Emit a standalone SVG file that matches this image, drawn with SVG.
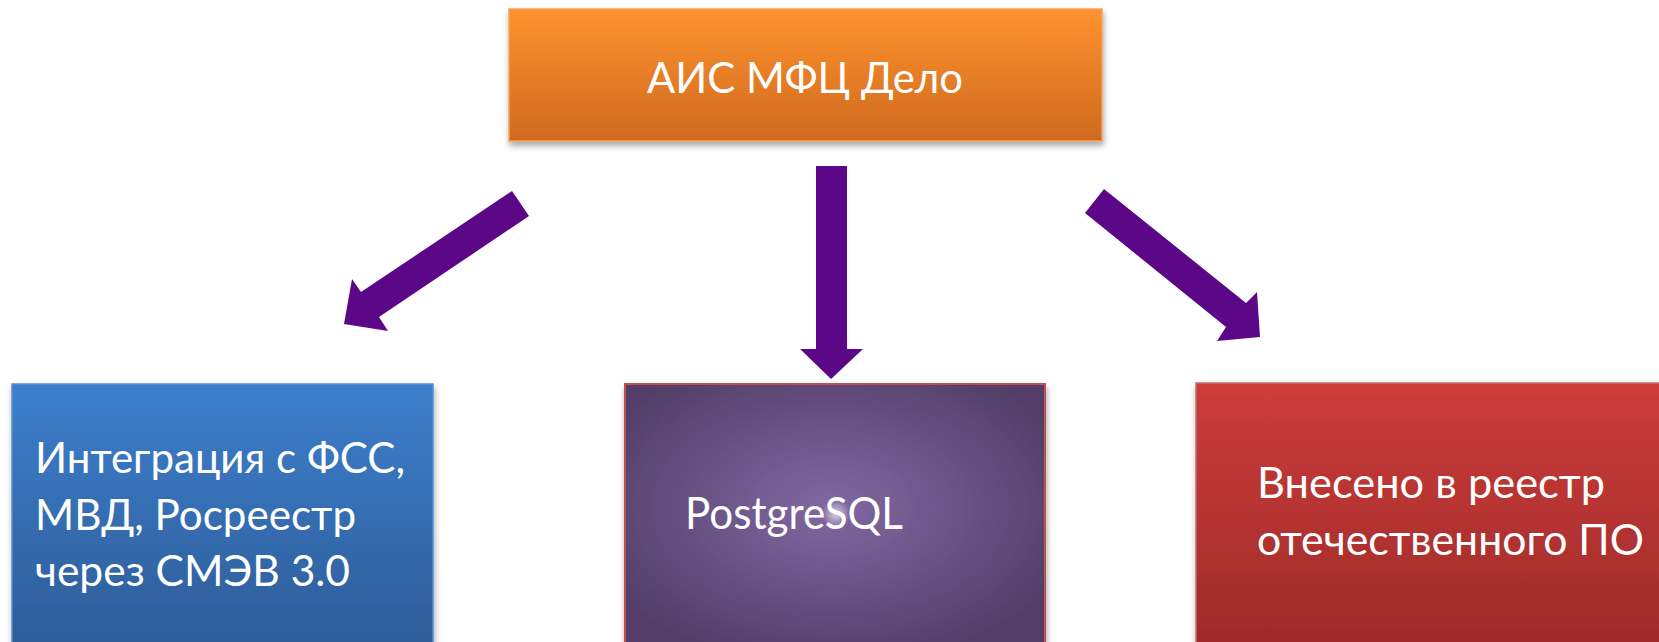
<svg xmlns="http://www.w3.org/2000/svg" width="1659" height="642" viewBox="0 0 1659 642">
<style>
.lbl{font-family:Lato,"Open Sans","Noto Sans",sans-serif;fill:#ffffff}
.arrow{fill:#5b0788}
</style>
<defs>
<linearGradient id="gOrange" x1="0" y1="0" x2="0" y2="1"><stop offset="0" stop-color="#fe922e"/><stop offset="1" stop-color="#cf6a1f"/></linearGradient>
<linearGradient id="gBlue" x1="0" y1="0" x2="0" y2="1"><stop offset="0" stop-color="#3d7fcc"/><stop offset="1" stop-color="#2d5c98"/></linearGradient>
<linearGradient id="gRed" x1="0" y1="0" x2="0" y2="1"><stop offset="0" stop-color="#cd3c3a"/><stop offset="1" stop-color="#9d2b29"/></linearGradient>
<radialGradient id="gPurple" cx="0.49" cy="0.47" r="0.62"><stop offset="0" stop-color="#8268a2"/><stop offset="1" stop-color="#523d68"/></radialGradient>
<radialGradient id="gGlow" cx="0.5" cy="0.5" r="0.5"><stop offset="0" stop-color="#ffffff" stop-opacity="0.7"/><stop offset="1" stop-color="#ffffff" stop-opacity="0"/></radialGradient>
<filter id="shadow" x="-5%" y="-10%" width="110%" height="125%"><feGaussianBlur in="SourceAlpha" stdDeviation="3"/><feOffset dx="1" dy="4"/><feComponentTransfer><feFuncA type="linear" slope="0.35"/></feComponentTransfer><feMerge><feMergeNode/><feMergeNode in="SourceGraphic"/></feMerge></filter>
</defs>
<rect width="1659" height="642" fill="#ffffff"/>
<g id="node-ais">
<rect x="509" y="9" width="593" height="132" fill="url(#gOrange)" stroke="#f7a35c" stroke-width="1.5" filter="url(#shadow)"/>
<text class="lbl" x="805" y="93" font-size="42" text-anchor="middle" textLength="316" lengthAdjust="spacingAndGlyphs">АИС МФЦ Дело</text>
</g>
<g id="connectors">
<polygon class="arrow" points="512,191 529,216 379,317 388,331 344,324 352,279 361,292"/>
<polygon class="arrow" points="816,166 847,166 847,349 863,349 831,379 800,349 816,349"/>
<polygon class="arrow" points="1104,189 1085,213 1226,327 1217,341 1260,337 1257,292 1246,303"/>
</g>
<g id="node-integration">
<rect x="12" y="384" width="421" height="262" fill="url(#gBlue)" stroke="#5b8fd0" stroke-width="1.5" filter="url(#shadow)"/>
<text class="lbl" font-size="43"><tspan x="35" y="473" textLength="370" lengthAdjust="spacingAndGlyphs">Интеграция с ФСС,</tspan><tspan x="35" y="530" textLength="321" lengthAdjust="spacingAndGlyphs">МВД, Росреестр</tspan><tspan x="35" y="586" textLength="315" lengthAdjust="spacingAndGlyphs">через СМЭВ 3.0</tspan></text>
</g>
<g id="node-postgres">
<rect x="625" y="384" width="420" height="262" fill="url(#gPurple)" stroke="#c0504d" stroke-width="2" filter="url(#shadow)"/>
<circle cx="836" cy="514" r="14" fill="url(#gGlow)"/>
<text class="lbl" x="685" y="529" font-size="44" textLength="218" lengthAdjust="spacingAndGlyphs">PostgreSQL</text>
</g>
<g id="node-registry">
<rect x="1196" y="383" width="470" height="263" fill="url(#gRed)" stroke="#c07070" stroke-width="1.5" filter="url(#shadow)"/>
<text class="lbl" font-size="43"><tspan x="1257" y="498" textLength="348" lengthAdjust="spacingAndGlyphs">Внесено в реестр</tspan><tspan x="1257" y="555" textLength="387" lengthAdjust="spacingAndGlyphs">отечественного ПО</tspan></text>
</g>
</svg>
